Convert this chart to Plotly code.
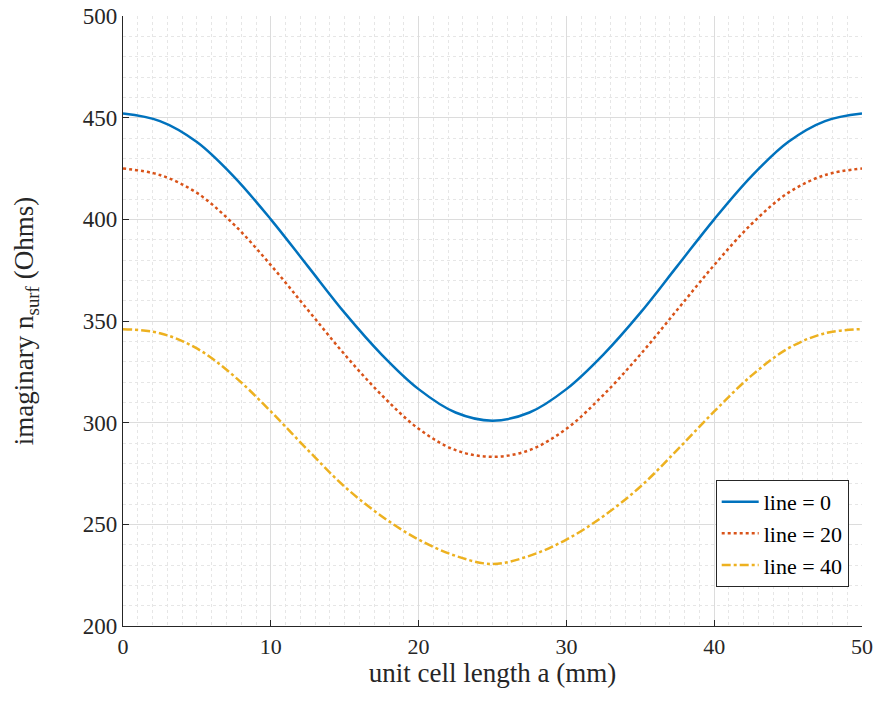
import plotly.graph_objects as go

x_vals = [0, 2.5, 5, 7.5, 10, 12.5, 15, 17.5, 20, 22.5, 25,
          27.5, 30, 32.5, 35, 37.5, 40, 42.5, 45, 47.5, 50]
line0 = [452, 448.3, 438, 421, 400, 377, 354, 333.5, 316.5, 305, 301,
         305, 316.5, 333.5, 354, 377, 400, 421, 438, 448.3, 452]
line20 = [425, 421.8, 413, 397.5, 377.5, 355.5, 333.5, 313.6, 297, 286.5, 283.2,
          286.5, 297, 313.6, 333.5, 355.5, 377.5, 397.5, 413, 421.8, 425]
line40 = [346, 344, 336.5, 323, 305.5, 286.6, 268.5, 254, 242.5, 234.5, 230.5,
          234.5, 242.5, 254, 268.5, 286.6, 305.5, 323, 336.5, 344, 346]

series_names = ["line = 0", "line = 20", "line = 40"]
colors = ["#0072BD", "#D95319", "#EDB120"]
dashes = ["solid", "dot", "9px,3px,3px,3px"]

fig = go.Figure()
for name, ys, c, d in zip(series_names, [line0, line20, line40], colors, dashes):
    fig.add_trace(go.Scatter(x=x_vals, y=ys, mode="lines", name=name,
                             line=dict(color=c, width=2.5, dash=d, shape="spline", smoothing=1.0)))

font_family = "Liberation Serif, Times New Roman, serif"
fig.update_layout(
    width=878, height=702,
    margin=dict(l=123, r=16, t=16, b=76),
    paper_bgcolor="white", plot_bgcolor="white",
    font=dict(family=font_family, size=22, color="#262626"),
    showlegend=True,
    legend=dict(x=0.982, y=0.064, xanchor="right", yanchor="bottom",
                bordercolor="#262626", borderwidth=1, bgcolor="white",
                font=dict(size=22, color="black"), itemwidth=37,
                tracegroupgap=0),
    xaxis=dict(range=[0, 50], tickvals=[0, 10, 20, 30, 40, 50],
               ticks="inside", ticklen=6, tickcolor="#262626",
               showline=True, linecolor="#262626", linewidth=1.2,
               showgrid=True, gridcolor="#dcdcdc", gridwidth=1,
               zeroline=False, automargin=False,
               minor=dict(dtick=1, showgrid=True, gridcolor="#e6e6e6",
                          griddash="dot", gridwidth=1, ticks=""),
               title=dict(text="unit cell length a (mm)", font=dict(size=27), standoff=5),
               tickfont=dict(size=22)),
    yaxis=dict(range=[200, 500], tickvals=[200, 250, 300, 350, 400, 450, 500],
               ticks="inside", ticklen=6, tickcolor="#262626",
               showline=True, linecolor="#262626", linewidth=1.2,
               showgrid=True, gridcolor="#dcdcdc", gridwidth=1,
               zeroline=False, automargin=False,
               minor=dict(dtick=10, showgrid=True, gridcolor="#e6e6e6",
                          griddash="dot", gridwidth=1, ticks=""),
               title=dict(text="imaginary n<sub>surf</sub> (Ohms)", font=dict(size=27), standoff=41),
               tickfont=dict(size=23)),
)

fig.write_html("out.html")
